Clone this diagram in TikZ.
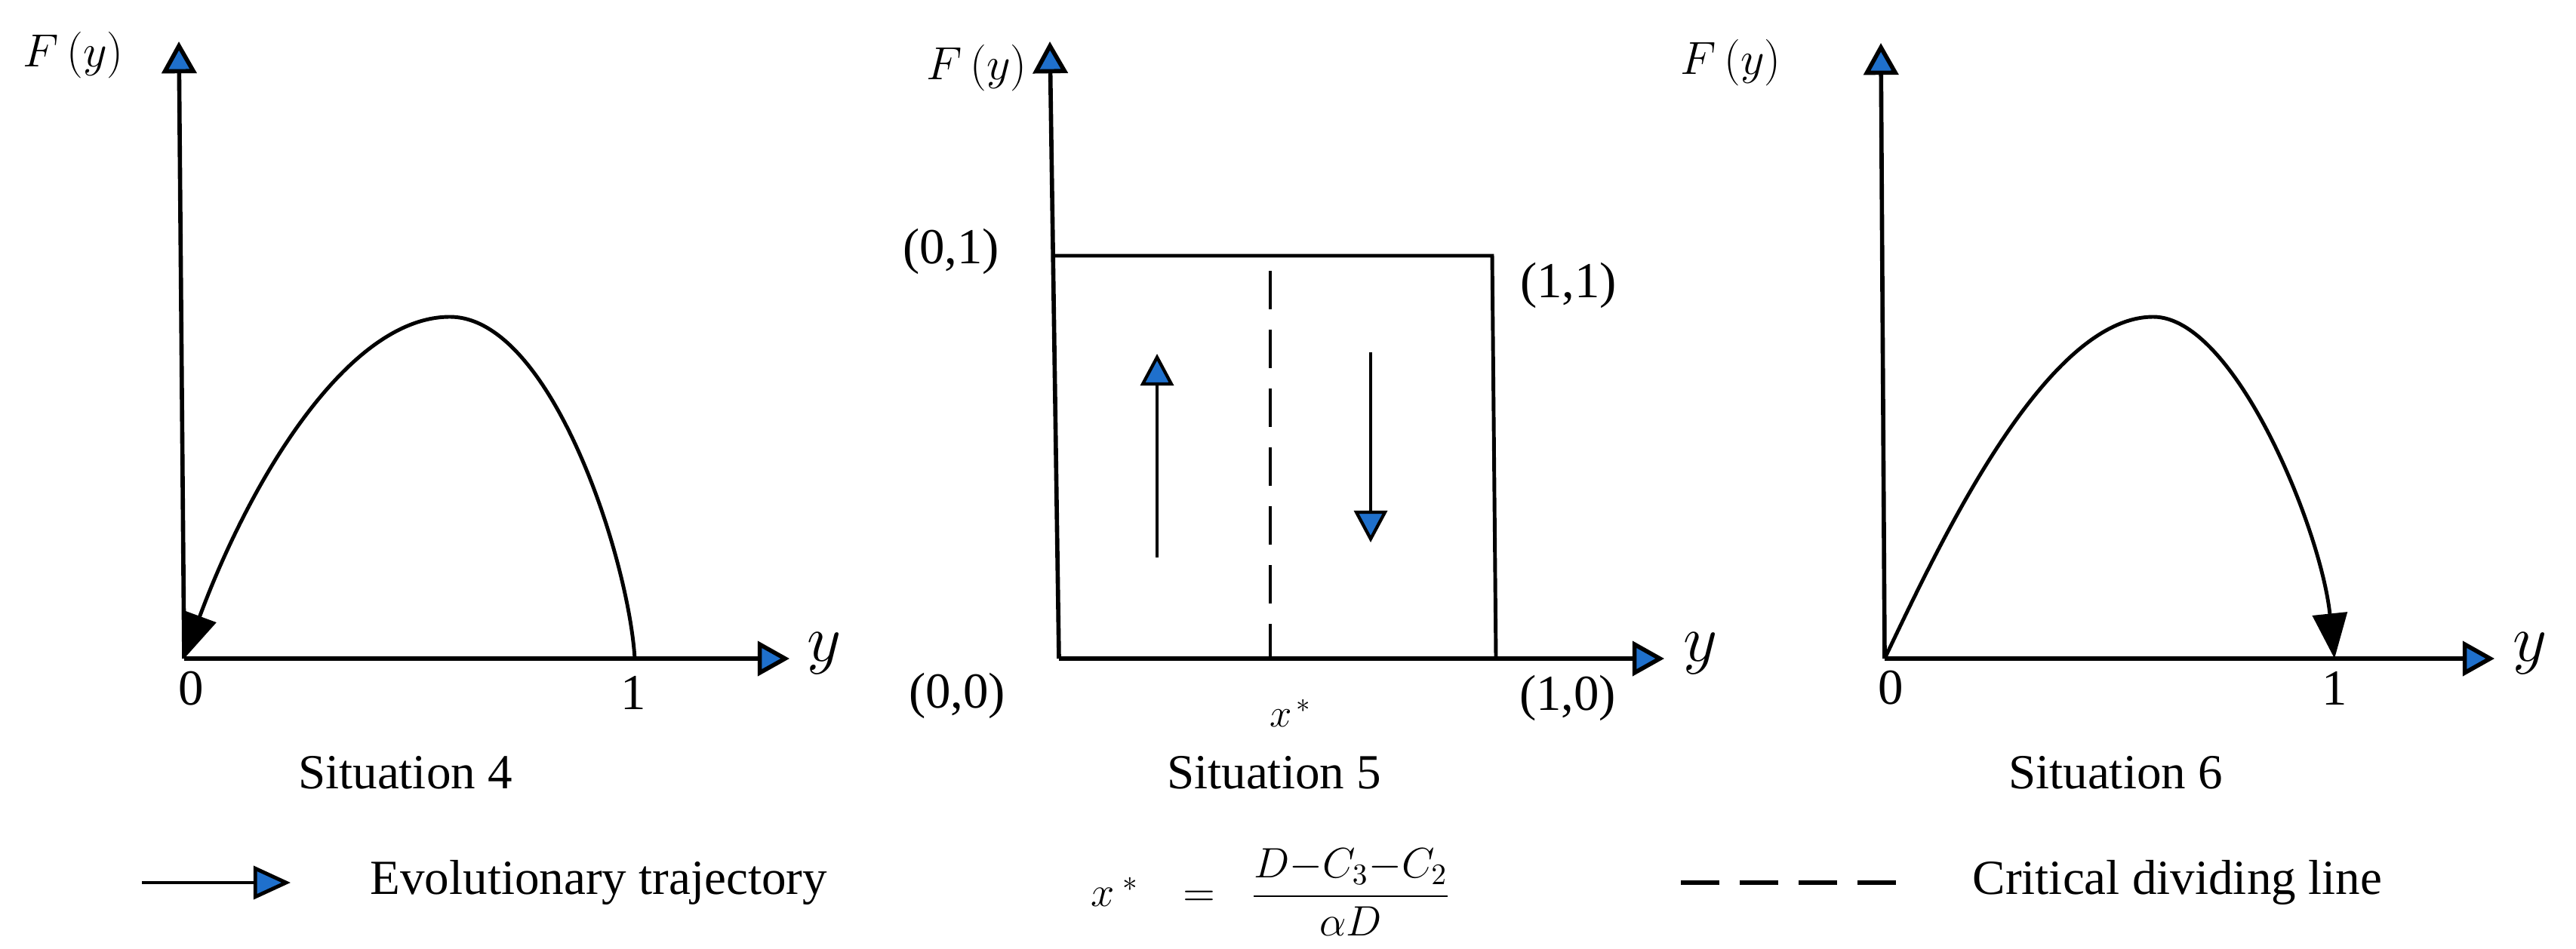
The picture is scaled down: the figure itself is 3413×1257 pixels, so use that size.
\RequirePackage{fix-cm}
\documentclass[tikz,border=0pt]{standalone}
\usepackage{fontspec}
\setmainfont{Liberation Serif}
\usetikzlibrary{arrows.meta}
\definecolor{tipblue}{RGB}{31,112,204}

\begin{document}
\begin{tikzpicture}[
		x=0.01cm, y=-0.01cm,
		axis/.style={line width=1.6pt, -{Triangle[length=12pt, width=13pt, fill=tipblue]}},
		orbit/.style={line width=1.4pt, -{Triangle[length=17pt, width=13pt]}},
		flow/.style={line width=1.2pt, -{Triangle[length=12pt, width=12.5pt, fill=tipblue]}},
		frame/.style={line width=1.4pt},
		critical/.style={line width=1.3pt, dash pattern=on 14.5pt off 7.7pt},
		txt/.style={font=\fontsize{18.5}{22}\selectfont, inner sep=0pt},
		tick/.style={font=\fontsize{19}{23}\selectfont, inner sep=0pt},
		fy/.style={font=\fontsize{17.5}{21}\selectfont, inner sep=0pt},
		ylab/.style={font=\fontsize{25}{30}\selectfont, inner sep=0pt}
	]

	\useasboundingbox (0,0) rectangle (3413,1257);

	% Situation 4: axes and trajectory towards 0
	\coordinate (o4) at (244,873);
	\coordinate (y4) at (237,55);
	\coordinate (x4) at (1046,873);
	\coordinate (one4) at (841,873);
	\coordinate (top4) at (596,420);
	\draw[axis] (o4) -- (y4);
	\draw[axis] (o4) -- (x4);
	\draw[orbit] (one4) .. controls (833,740) and (730,420) .. (top4)
		.. controls (460,420) and (330,640) .. (o4);

	\node[fy] (fy4) at (97,73) {$F\,(y)$};
	\node[tick] (zero4) at (253,913) {0};
	\node[tick] (unit4) at (839,918) {1};
	\node[ylab] (ya4) at (1092,866) {$y$};
	\node[txt] (sit4) at (537,1024) {Situation 4};

	% Situation 5: unit square split by x*
	\coordinate (o5) at (1403,873);
	\coordinate (y5) at (1391,55);
	\coordinate (x5) at (2205,873);
	\coordinate (tl5) at (1394,339);
	\coordinate (tr5) at (1977,339);
	\coordinate (br5) at (1982,873);
	\draw[axis] (o5) -- (y5);
	\draw[axis] (o5) -- (x5);
	\draw[frame] (tl5) -- (tr5) -- (br5);

	\coordinate (ct5) at (1683,359);
	\coordinate (cb5) at (1683,873);
	\draw[critical] (ct5) -- (cb5);

	\coordinate (ua) at (1533,739);
	\coordinate (ub) at (1533,469);
	\coordinate (da) at (1816,467);
	\coordinate (db) at (1816,719);
	\draw[flow] (ua) -- (ub);
	\draw[flow] (da) -- (db);

	\node[fy] (fy5) at (1294,90) {$F\,(y)$};
	\node[tick] (p01) at (1260,333) {(0,1)};
	\node[tick] (p11) at (2078,378) {(1,1)};
	\node[tick] (p00) at (1268,922) {(0,0)};
	\node[tick] (p10) at (2077,925) {(1,0)};
	\node[fy, font=\fontsize{15}{18}\selectfont] (xs5) at (1710,945) {$x^{\,*}$};
	\node[ylab] (ya5) at (2253,866) {$y$};
	\node[txt] (sit5) at (1688,1024) {Situation 5};

	% Situation 6: axes and trajectory towards 1
	\coordinate (o6) at (2497,873);
	\coordinate (y6) at (2492,57);
	\coordinate (x6) at (3305,873);
	\coordinate (one6) at (3093,873);
	\coordinate (top6) at (2853,420);
	\draw[axis] (o6) -- (y6);
	\draw[axis] (o6) -- (x6);
	\draw[orbit] (o6) .. controls (2570,720) and (2710,420) .. (top6)
		.. controls (2960,420) and (3075,700) .. (one6);

	\node[fy] (fy6) at (2293,83) {$F\,(y)$};
	\node[tick] (zero6) at (2505,912) {0};
	\node[tick] (unit6) at (3093,912) {1};
	\node[ylab] (ya6) at (3352,866) {$y$};
	\node[txt] (sit6) at (2803,1024) {Situation 6};

	% Legend
	\coordinate (la) at (188,1170);
	\coordinate (lb) at (385,1170);
	\draw[flow, line width=1.4pt, -{Triangle[length=14pt, width=12.5pt, fill=tipblue]}] (la) -- (lb);
	\node[txt, anchor=west] (ltraj) at (490,1170) {Evolutionary trajectory};

	\node[fy, font=\fontsize{16}{19}\selectfont] (lform) at (1684,1183)
		{$x^{\hspace{3pt}*}\hspace{12pt}=\hspace{9pt}\displaystyle\frac{D{-}C_3{-}C_2}{\alpha D}$};

	\coordinate (lc) at (2227,1170);
	\coordinate (ld) at (2517,1170);
	\draw[critical, line width=1.5pt] (lc) -- (ld);
	\node[txt, anchor=west] (lcrit) at (2613,1170) {Critical dividing line};

\end{tikzpicture}
\end{document}
